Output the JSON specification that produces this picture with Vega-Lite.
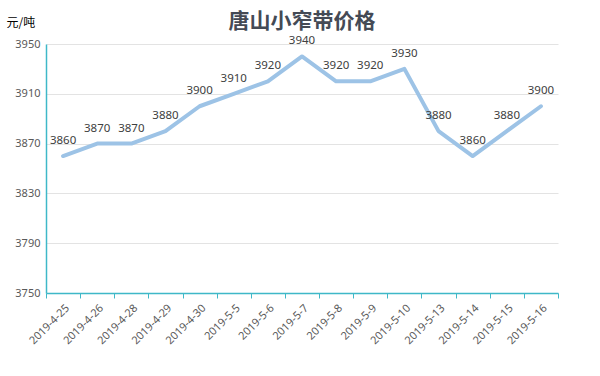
{
  "$schema": "https://vega.github.io/schema/vega-lite/v6.json",
  "width": 512,
  "height": 249,
  "autosize": {"type": "none"},
  "padding": {"left": 46, "top": 44, "right": 42, "bottom": 83},
  "background": "#ffffff",
  "title": {
    "text": "唐山小窄带价格",
    "font": "Noto Sans CJK SC",
    "fontSize": 21,
    "fontWeight": "bold",
    "color": "#444a55",
    "anchor": "middle",
    "offset": -16
  },
  "config": {
    "view": {"stroke": null},
    "font": "Noto Sans"
  },
  "data": {
    "values": [
      {"date": "2019-4-25", "price": 3860},
      {"date": "2019-4-26", "price": 3870},
      {"date": "2019-4-28", "price": 3870},
      {"date": "2019-4-29", "price": 3880},
      {"date": "2019-4-30", "price": 3900},
      {"date": "2019-5-5", "price": 3910},
      {"date": "2019-5-6", "price": 3920},
      {"date": "2019-5-7", "price": 3940},
      {"date": "2019-5-8", "price": 3920},
      {"date": "2019-5-9", "price": 3920},
      {"date": "2019-5-10", "price": 3930},
      {"date": "2019-5-13", "price": 3880},
      {"date": "2019-5-14", "price": 3860},
      {"date": "2019-5-15", "price": 3880},
      {"date": "2019-5-16", "price": 3900}
    ]
  },
  "encoding": {
    "x": {
      "field": "date",
      "type": "nominal",
      "sort": null,
      "scale": {"type": "band", "paddingInner": 0, "paddingOuter": 0},
      "axis": {
        "title": null,
        "labelAngle": -45,
        "labelColor": "#595959",
        "labelFontSize": 11,
        "domainColor": "#3FB8C8",
        "domainWidth": 1.5,
        "tickColor": "#3FB8C8",
        "tickSize": 5,
        "tickBand": "extent",
        "grid": false,
        "labelPadding": 4
      }
    },
    "y": {
      "field": "price",
      "type": "quantitative",
      "scale": {"domain": [3750, 3950], "nice": false, "zero": false},
      "axis": {
        "values": [3750, 3790, 3830, 3870, 3910, 3950],
        "format": "d",
        "title": "元/吨",
        "titleAngle": 0,
        "titleX": -40,
        "titleY": -22,
        "titleAlign": "left",
        "titleBaseline": "middle",
        "titleFont": "Noto Sans CJK SC",
        "titleFontSize": 12,
        "titleFontWeight": "normal",
        "titleColor": "#000000",
        "labelColor": "#595959",
        "labelFontSize": 11,
        "ticks": false,
        "labelPadding": 6,
        "domainColor": "#3FB8C8",
        "domainWidth": 1.5,
        "gridColor": "#E3E3E3",
        "gridWidth": 1
      }
    }
  },
  "layer": [
    {
      "mark": {"type": "line", "color": "#9DC3E6", "strokeWidth": 4, "strokeCap": "round", "strokeJoin": "round"}
    },
    {
      "mark": {"type": "text", "dy": -15, "fontSize": 11.5, "color": "#404040"},
      "encoding": {"text": {"field": "price", "type": "quantitative", "format": "d"}}
    }
  ]
}
